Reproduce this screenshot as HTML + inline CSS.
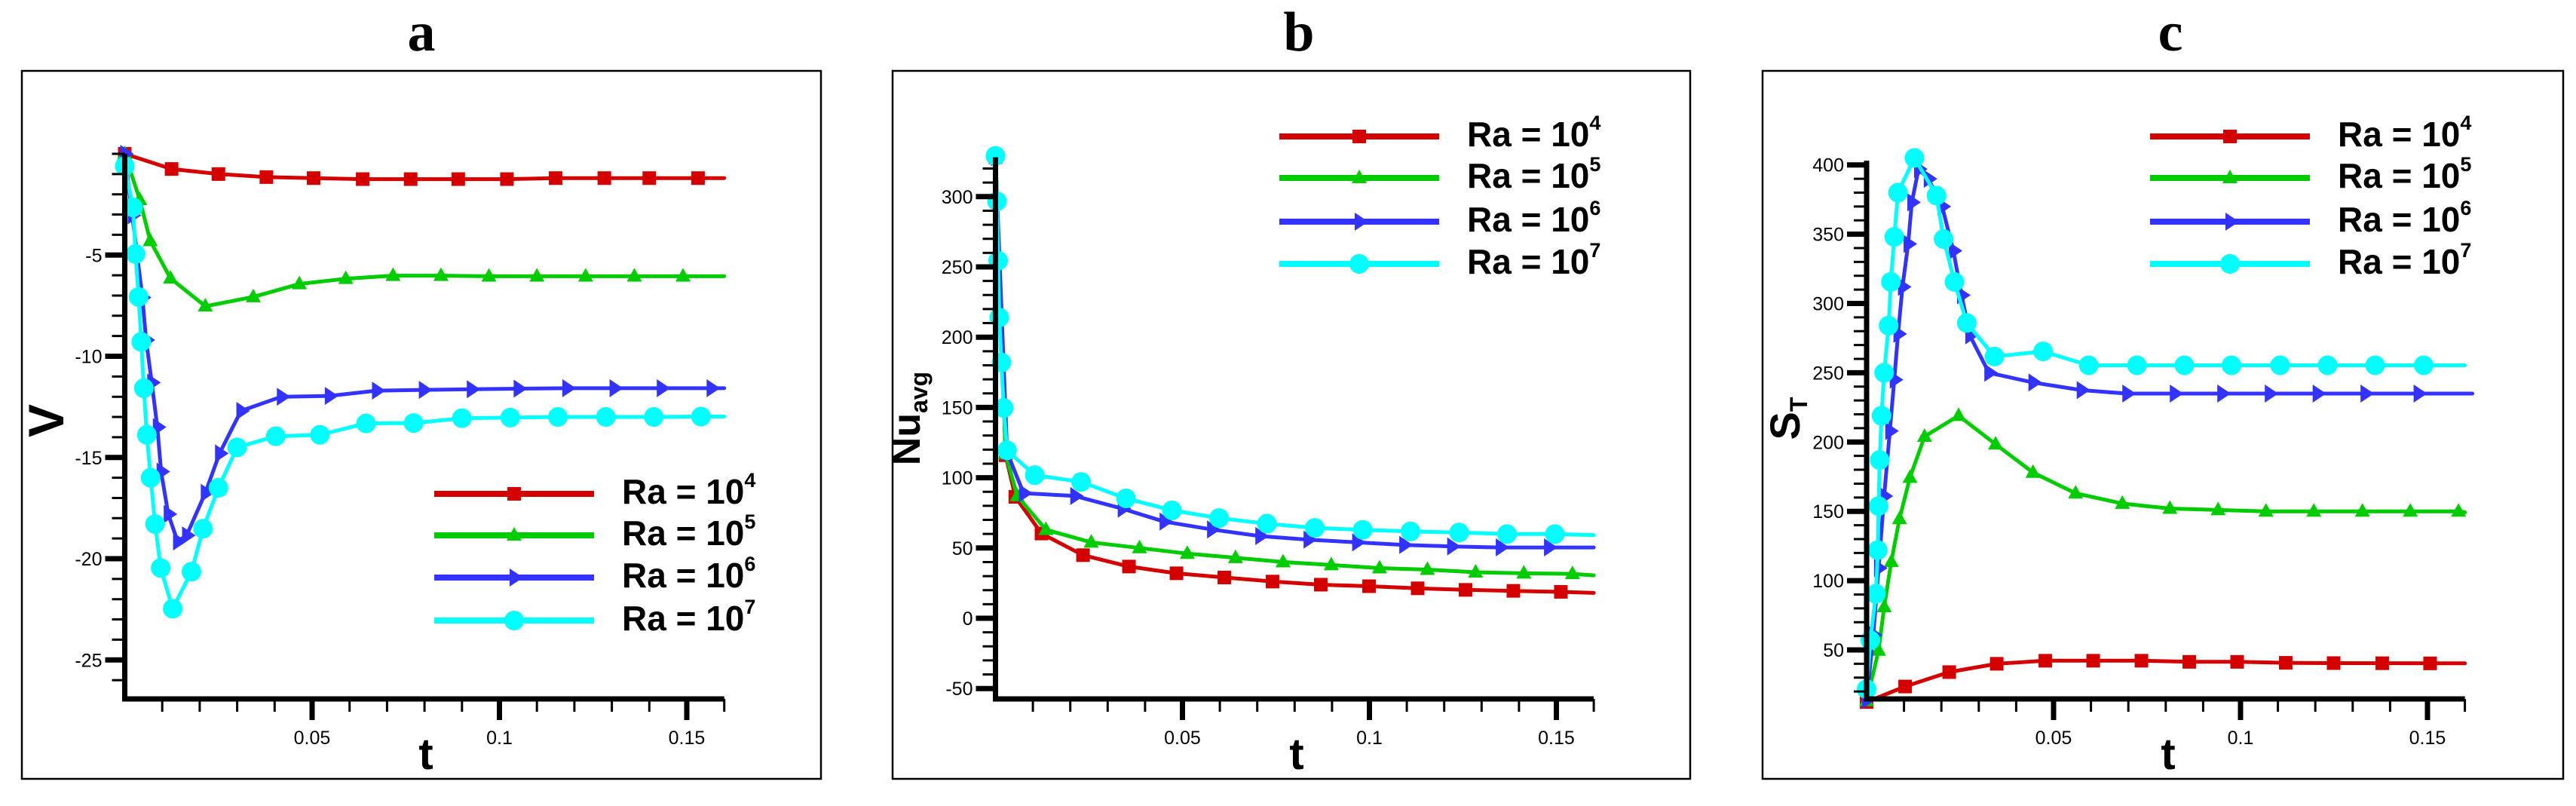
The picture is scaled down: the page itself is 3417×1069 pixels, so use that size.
<!DOCTYPE html>
<html><head><meta charset="utf-8"><style>
html,body{margin:0;padding:0;background:#fff;}
svg{display:block;}
</style></head><body>
<svg id="fig" width="3417" height="1069" viewBox="0 0 3417 1069" xmlns="http://www.w3.org/2000/svg" font-family="Liberation Sans, Arial, sans-serif"></svg>
<script>
// ---------- Panel a (V vs t) ----------
const aRedT=[0,.0125,.025,.0378,.0504,.0635,.0763,.089,.102,.115,.128,.140,.153,.16];
const aRedV=[0,-0.75,-1.0,-1.15,-1.2,-1.25,-1.25,-1.25,-1.25,-1.2,-1.2,-1.2,-1.2,-1.2];
const aGreenT=[0,.004,.0068,.0122,.0215,.0343,.0466,.059,.0716,.0844,.0972,.110,.123,.136,.149,.16];
const aGreenV=[0,-2.27,-4.3,-6.15,-7.53,-7.07,-6.43,-6.17,-6.02,-6.02,-6.05,-6.05,-6.05,-6.05,-6.05,-6.05];
const aBlueT=[0,.002,.0047,.0057,.0072,.0087,.0097,.0116,.0141,.0165,.0215,.0253,.031,.0418,.0546,.0672,.0797,.0925,.105,.118,.1306,.1432,.1565,.16];
const aBlueV=[0,-3.04,-7.1,-9.2,-11.3,-13.5,-15.7,-17.8,-19.15,-18.85,-16.75,-14.8,-12.7,-12.0,-11.96,-11.7,-11.66,-11.63,-11.6,-11.58,-11.58,-11.58,-11.58,-11.58];
const aCyanT=[0,.0022,.0029,.0037,.0044,.0051,.0059,.0069,.0081,.0096,.0128,.0178,.0209,.025,.03,.0403,.0521,.0644,.0771,.09,.1029,.1156,.1284,.1412,.1538,.16];
const aCyanV=[-0.61,-2.65,-4.95,-7.07,-9.29,-11.58,-13.88,-16.0,-18.29,-20.46,-22.47,-20.64,-18.52,-16.5,-14.5,-13.95,-13.88,-13.32,-13.3,-13.06,-13.03,-13.0,-13.0,-13.0,-12.98,-12.98];
const aYTicks=[-25,-20,-15,-10,-5];
// ---------- Panel b (Nu_avg vs t) ----------
const bRedT=[0,.0027,.0053,.0123,.0234,.0357,.0484,.0612,.0741,.087,.0999,.1129,.1257,.1385,.1512,.16];
const bRedV=[328,116,86.4,60.3,44.9,36.8,32,29,26.1,23.9,22.8,21.3,20.2,19.5,18.8,18];
const bGreenT=[0,.0027,.0058,.0135,.0256,.0385,.0513,.0642,.0769,.0898,.1027,.1155,.1284,.1413,.1543,.16];
const bGreenV=[328,117,87,63,54,50,46,43,40,37.9,35.7,34.6,32.7,32,31.6,30.5];
const bBlueT=[0,.0031,.0075,.0212,.0339,.0451,.0578,.0707,.0836,.0966,.1092,.122,.135,.1479,.16];
const bBlueV=[328,118,89,87,78,68.8,63.2,58.5,55.9,54,52.2,51.1,50.4,50.4,50.4];
const bCyanT=[0,.0004,.0007,.001,.0016,.0022,.0031,.0105,.0229,.0349,.0472,.0598,.0726,.0854,.0982,.111,.124,.1368,.1496,.16];
const bCyanV=[329,296.7,254.4,214,182,149.6,119.5,101.8,97,85.3,76.8,71.3,67.3,64.3,62.9,61.8,61,59.9,59.9,59.2];
const bYTicks=[-50,0,50,100,150,200,250,300];
// ---------- Panel c (S_T vs t) ----------
const cRedT=[0,.0103,.0221,.0348,.0478,.0606,.0735,.0863,.0991,.1121,.1249,.1379,.1507,.16];
const cRedV=[12.4,23.6,34,40,42.2,42.2,42.2,41.4,41.4,40.7,40.5,40.4,40.3,40.3];
const cGreenT=[0,.0032,.0047,.0066,.0088,.0116,.0155,.0246,.0345,.0445,.0559,.0684,.0811,.094,.1068,.1196,.1326,.1454,.1583,.16];
const cGreenV=[13.2,49.6,81,113.6,144.5,174.3,204,219,198.4,178,163,155.6,152,151,150,150,150,150,150,149.3];
const cBlueT=[0,.0018,.0032,.0047,.0062,.0074,.0084,.0096,.0111,.0121,.0139,.0165,.0202,.0232,.0254,.0276,.0327,.0445,.0574,.0696,.0823,.095,.1077,.1205,.1333,.1475,.162];
const cBlueV=[14,60.8,109,161,208,245,278,312,343,373,397,390,370,338,306,277,250,243,237.5,235,235,235,235,235,235,235,235];
const cCyanT=[0,.001,.0025,.003,.0032,.0035,.004,.0047,.0059,.0065,.0074,.0084,.0128,.0187,.0206,.0235,.0268,.0342,.0472,.0594,.0723,.085,.0976,.1106,.1233,.136,.149,.16];
const cCyanV=[21.7,57,90.5,122,153.8,187,219,250,284,315.6,348,380,405,377.8,346.5,315.6,285.9,261.7,265.4,255.4,255.4,255.4,255.4,255.4,255.4,255.4,255.4,255.4];
const cYTicks=[50,100,150,200,250,300,350,400];
const xTicks=[0.05,0.1,0.15];
const xTickLabels=["0.05","0.1","0.15"];
const legendLabels=["4","5","6","7"];

const NS="http://www.w3.org/2000/svg";
const svg=document.getElementById('fig');
function mk(tag,attrs,parent){const e=document.createElementNS(NS,tag);for(const k in attrs)e.setAttribute(k,attrs[k]);(parent||svg).appendChild(e);return e;}
const COL={red:"#d40000",green:"#00cc00",blue:"#3333ff",cyan:"#00ffff"};

function marker(g,type,x,y,color){
  let m;
  if(type==="square"){m=mk('rect',{x:x-9,y:y-9,width:18,height:18,fill:color},g);}
  else if(type==="tri"){m=mk('polygon',{points:`${x},${y-11} ${x-10},${y+7} ${x+10},${y+7}`,fill:color},g);}
  else if(type==="rtri"){m=mk('polygon',{points:`${x+12},${y} ${x-6},${y-12} ${x-6},${y+12}`,fill:color},g);}
  else {m=mk('circle',{cx:x,cy:y,r:13,fill:color},g);}
  
  
}

function panel(p){
  const g=mk('g',{});
  
  
  const X=t=>p.x0+t/0.05*p.xs;
  const Y=v=>p.y0-(v-p.yref)*p.ys;
  const yBot=927, yTop=Y(p.ymax), xR=X(0.16);
  const fr=mk('rect',{x:p.frame[0],y:p.frame[1],width:p.frame[2]-p.frame[0],height:p.frame[3]-p.frame[1],fill:"none",stroke:"#000","stroke-width":2.5},g);
  
  const ti=mk('text',{x:p.tx,y:67,"text-anchor":"middle","font-family":"Liberation Serif, serif","font-weight":"bold","font-size":74},g);
  ti.textContent=p.id;
  // series
  p.series.forEach(s=>{
    const sg=mk('g',{},g);
    
    
    const pts=s.t.map((t,i)=>X(t).toFixed(1)+","+Y(s.v[i]).toFixed(1)).join(" ");
    const pl=mk('polyline',{points:pts,fill:"none",stroke:s.color,"stroke-width":5,"stroke-linejoin":"round","stroke-linecap":"round"},sg);
    
    for(let i=0;i<s.t.length-1;i++)marker(sg,s.m,X(s.t[i]),Y(s.v[i]),s.color);
  });
  // axes
  const ag=mk('g',{},g);
  
  mk('line',{x1:p.x0,y1:yTop,x2:p.x0,y2:yBot+3.5,stroke:"#000","stroke-width":7},ag);
  mk('line',{x1:p.x0-3.5,y1:yBot,x2:xR,y2:yBot,stroke:"#000","stroke-width":7},ag);
  for(let v=p.minorStart;v<=p.ymax+1e-9;v+=p.minor){
    const major=p.yt.some(m=>Math.abs(m-v)<1e-6);
    const yy=Y(v); if(yy>yBot+1)continue;
    mk('line',{x1:p.x0-(major?26:17),y1:yy,x2:p.x0,y2:yy,stroke:"#000","stroke-width":major?7:3},ag);
  }
  p.yt.forEach(v=>{const t=mk('text',{x:p.x0-30,y:Y(v)+9,"text-anchor":"end","font-size":25},ag);t.textContent=String(v);
    });
  for(let k=1;k<=16;k++){const tv=k*0.01;const major=k%5===0;const xx=X(tv);
    mk('line',{x1:xx,y1:yBot,x2:xx,y2:yBot+(major?28:17),stroke:"#000","stroke-width":major?7:3},ag);}
  xTicks.forEach((tv,i)=>{const t=mk('text',{x:X(tv),y:987,"text-anchor":"middle","font-size":25},ag);t.textContent=xTickLabels[i];
    });
  const xl=mk('text',{x:p.xlx,y:1020,"text-anchor":"middle","font-weight":"bold","font-size":58},g);
  xl.textContent="t";
  const yl=mk('text',{x:0,y:0,"text-anchor":"middle","font-weight":"bold","font-size":p.ylSize,transform:`translate(${p.ylx},${p.yly}) rotate(-90)`},g);
  
  yl.appendChild(document.createTextNode(p.yl));
  if(p.ylsub){const ts=mk('tspan',{"font-size":32,dy:10},yl);ts.textContent=p.ylsub;}
  // legend
  const lg=mk('g',{},g);
  
  p.series.forEach((s,i)=>{
    const yy=p.legY[i];
    const eg=mk('g',{},lg);
    
    mk('line',{x1:p.legX,y1:yy,x2:p.legX+212,y2:yy,stroke:s.color,"stroke-width":8},eg);
    marker(eg,s.m,p.legX+106,yy,s.color);
    const t=mk('text',{x:p.legX+249,y:yy+13,"font-weight":"bold","font-size":46},eg);
    t.appendChild(document.createTextNode("Ra = 10"));
    const sp=mk('tspan',{"font-size":27,dy:-22},t);sp.textContent=legendLabels[i];
  });
}

panel({id:"a",frame:[29,94,1089,1033],tx:559,x0:165.5,xs:248.5,y0:204,yref:0,ys:26.85,ymax:0,
  minorStart:-27,minor:1,yt:aYTicks,yl:"V",ylSize:66,ylx:84,yly:558,xlx:565,
  legX:576,legY:[655,710,766,823],
  series:[{name:"ra1e4",t:aRedT,v:aRedV,color:COL.red,m:"square"},
          {name:"ra1e5",t:aGreenT,v:aGreenV,color:COL.green,m:"tri"},
          {name:"ra1e6",t:aBlueT,v:aBlueV,color:COL.blue,m:"rtri"},
          {name:"ra1e7",t:aCyanT,v:aCyanV,color:COL.cyan,m:"circle"}]});
panel({id:"b",frame:[1184,94,2242,1033],tx:1723,x0:1320.5,xs:248,y0:820,yref:0,ys:1.864,ymax:328,
  minorStart:-50,minor:10,yt:bYTicks,yl:"Nu",ylsub:"avg",ylSize:52,ylx:1220,yly:555,xlx:1720,
  legX:1697,legY:[181,236,294,350],
  series:[{name:"ra1e4",t:bRedT,v:bRedV,color:COL.red,m:"square"},
          {name:"ra1e5",t:bGreenT,v:bGreenV,color:COL.green,m:"tri"},
          {name:"ra1e6",t:bBlueT,v:bBlueV,color:COL.blue,m:"rtri"},
          {name:"ra1e7",t:bCyanT,v:bCyanV,color:COL.cyan,m:"circle"}]});
panel({id:"c",frame:[2338,94,3400,1033],tx:2879,x0:2476,xs:248,y0:862,yref:50,ys:1.838,ymax:403,
  minorStart:20,minor:10,yt:cYTicks,yl:"S",ylsub:"T",ylSize:56,ylx:2387,yly:555,xlx:2876,
  legX:2852,legY:[181,236,294,350],
  series:[{name:"ra1e4",t:cRedT,v:cRedV,color:COL.red,m:"square"},
          {name:"ra1e5",t:cGreenT,v:cGreenV,color:COL.green,m:"tri"},
          {name:"ra1e6",t:cBlueT,v:cBlueV,color:COL.blue,m:"rtri"},
          {name:"ra1e7",t:cCyanT,v:cCyanV,color:COL.cyan,m:"circle"}]});
</script>
</body></html>
